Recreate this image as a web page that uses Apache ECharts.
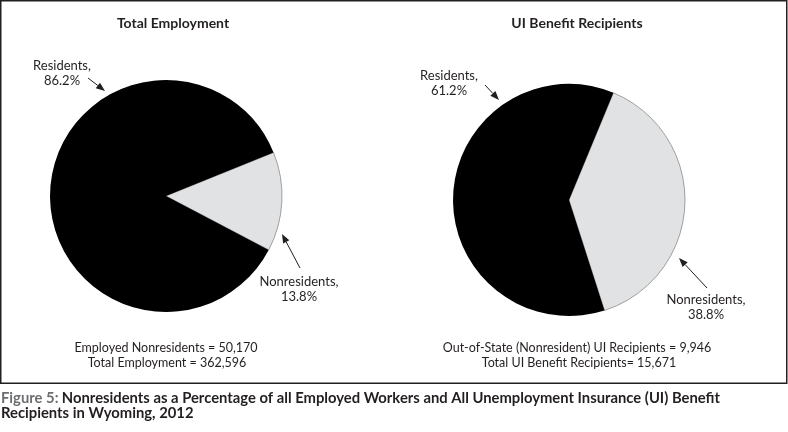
<!DOCTYPE html>
<html>
<head>
<meta charset="utf-8">
<script src="https://cdn.jsdelivr.net/npm/echarts@6/dist/echarts.min.js"></script>
<style>
  html, body { margin: 0; padding: 0; background: #fff; }
  #chart { width: 788px; height: 432px; }
</style>
</head>
<body>
<div id="chart"></div>
<script>
// data (percent shares)
var categories = ['Nonresidents', 'Residents'];
var employmentShare = [13.8, 86.2];
var uiShare = [38.8, 61.2];
var chartTitles = ['Total Employment', 'UI Benefit Recipients'];
var notes = [
  ['Employed Nonresidents = 50,170', 'Total Employment = 362,596'],
  ['Out-of-State (Nonresident) UI Recipients = 9,946', 'Total UI Benefit Recipients= 15,671']
];

var FONT = 'Lato';
var DARK = '#231f20';
var sliceColors = ['#e1e2e3', '#000000'];

// where each label sits, [series][dataIndex]
var labelPos = [
  [[299, 289], [62, 73]],
  [[706, 307], [449, 83]]
];

function makeData(values) {
  var out = [];
  for (var i = 0; i < categories.length; i++) {
    out.push({
      name: categories[i],
      value: values[i],
      itemStyle: {
        color: sliceColors[i],
        borderColor: i === 0 ? '#8a8a8a' : '#000',
        borderWidth: i === 0 ? 0.8 : 0
      }
    });
  }
  return out;
}

function pieSeries(values, center, start, idx) {
  return {
    type: 'pie',
    center: center,
    radius: 116,
    startAngle: start,
    clockwise: true,
    silent: true,
    avoidLabelOverlap: false,
    data: makeData(values),
    label: {
      show: true,
      position: 'outside',
      overflow: 'none',
      color: DARK,
      fontFamily: FONT,
      fontSize: 13,
      lineHeight: 15,
      formatter: function (p) { return p.name + ',\n' + p.value.toFixed(1) + '%'; }
    },
    labelLine: { show: false },
    labelLayout: function (p) {
      var pos = labelPos[idx][p.dataIndex];
      return { x: pos[0], y: pos[1], align: 'center', verticalAlign: 'middle', hideOverlap: false };
    }
  };
}

// arrow annotation: line + filled head at (x2,y2)
function arrow(x1, y1, x2, y2) {
  var ang = Math.atan2(y2 - y1, x2 - x1);
  var len = 9, half = 3.5;
  var bx = x2 - len * Math.cos(ang), by = y2 - len * Math.sin(ang);
  return [
    { type: 'line', shape: { x1: x1, y1: y1, x2: bx, y2: by },
      style: { stroke: DARK, lineWidth: 1 } },
    { type: 'polygon', shape: { points: [
        [x2, y2],
        [bx + half * Math.sin(ang), by - half * Math.cos(ang)],
        [bx - half * Math.sin(ang), by + half * Math.cos(ang)]
      ] }, style: { fill: DARK } }
  ];
}

function centeredText(str, x, y, size, weight) {
  return { type: 'text', x: x, y: y,
    style: { text: str, fill: DARK, font: weight + ' ' + size + 'px ' + FONT,
      align: 'center', verticalAlign: 'middle' } };
}

var graphics = [
  { type: 'rect', shape: { x: 0.75, y: 0.75, width: 786, height: 382.5 },
    style: { fill: 'none', stroke: DARK, lineWidth: 1.5 } },
  centeredText(chartTitles[0], 173, 23, 14, 'bold'),
  centeredText(chartTitles[1], 577, 23, 14, 'bold'),
  centeredText(notes[0][0], 166, 348, 12.5, 'normal'),
  centeredText(notes[0][1], 167, 363, 12.5, 'normal'),
  centeredText(notes[1][0], 577, 348, 12.5, 'normal'),
  centeredText(notes[1][1], 579, 363, 12.5, 'normal'),
  {
    type: 'text', x: 1, y: 391,
    style: {
      text: '{a|Figure 5:} {b|Nonresidents as a Percentage of all Employed Workers and All Unemployment Insurance (UI) Benefit}\n{b|Recipients in Wyoming, 2012}',
      rich: {
        a: { fill: '#6d6e71', font: 'bold 14.8px ' + FONT, lineHeight: 15 },
        b: { fill: DARK, font: 'bold 14.8px ' + FONT, lineHeight: 15 }
      }
    }
  }
];
graphics = graphics
  .concat(arrow(88, 78, 105, 91))
  .concat(arrow(300, 268, 282, 234))
  .concat(arrow(485, 85, 499, 100))
  .concat(arrow(707, 288, 679, 258));

var myChart = echarts.init(document.getElementById('chart'));
var option = {
  animation: false,
  backgroundColor: '#fff',
  series: [
    pieSeries(employmentShare, [166, 196], 22, 0),
    pieSeries(uiShare, [569, 200], 67.5, 1)
  ],
  graphic: graphics
};
myChart.setOption(option);
</script>
</body>
</html>
